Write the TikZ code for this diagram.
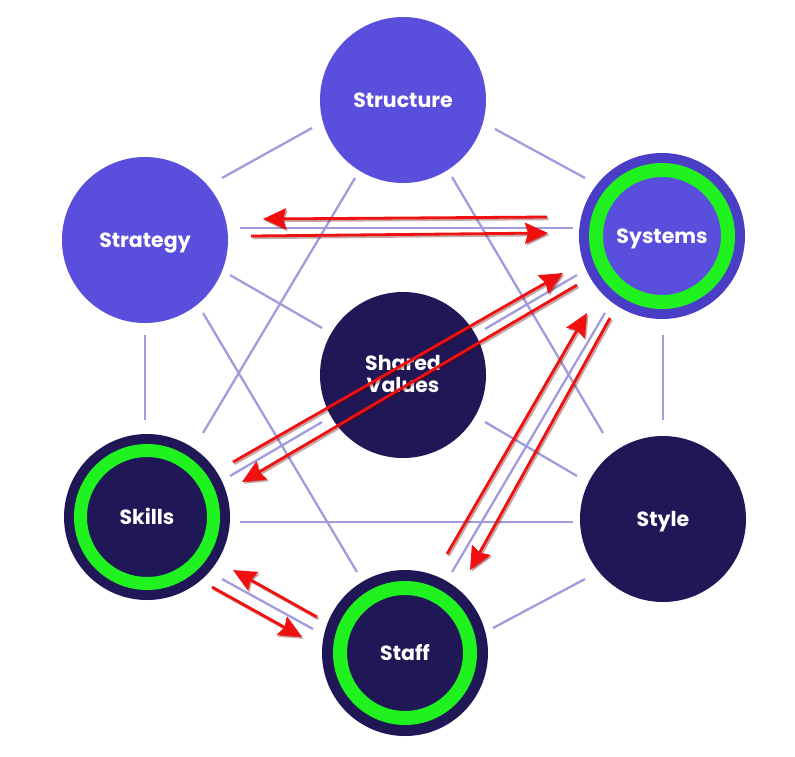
\documentclass[tikz,border=0pt]{standalone}
\usepackage{fontspec}
\setmainfont{Poppins}
\usetikzlibrary{calc,arrows.meta,backgrounds}
\definecolor{lpurple}{HTML}{5A4EDD}
\definecolor{rimpurple}{HTML}{4A3EC6}
\definecolor{navy}{HTML}{1F1756}
\definecolor{ringgreen}{HTML}{1FF21F}
\definecolor{linkblue}{HTML}{A19DDC}
\definecolor{glowc}{HTML}{8F88E8}
\definecolor{arrred}{HTML}{F01010}
\newcommand\myarrow[2]{%
  \draw[arrsh] #1 -- #2;
  \draw[arr] #1 -- #2;}
\begin{document}
\begin{tikzpicture}[x=1pt,y=-1pt,
  ball/.style={circle, inner sep=0pt, minimum size=166pt, text=white,
    font=\fontsize{20.5}{22}\selectfont\bfseries, align=center,
    text height=14.4pt, text depth=0pt},
  link/.style={draw=linkblue, line width=2.3pt},
  arr/.style={draw=arrred, line width=2.8pt,
    -{Stealth[length=23pt,width=21pt,inset=3pt]}},
  arrsh/.style={draw=black!60!red, opacity=0.35, line width=2.8pt,
    -{Stealth[length=23pt,width=21pt,inset=3pt]},
    transform canvas={shift={(1.5pt,-1.8pt)}}},
  ring/.style={draw=ringgreen, line width=14pt}]
\useasboundingbox (0,0) rectangle (795,756);
\fill[white] (0,0) rectangle (795,756);

% nodes
\node[ball, fill=lpurple] (st) at (403,100) {Structure};
\node[ball, fill=lpurple] (sg) at (145,240) {Strategy};
\node[ball, fill=rimpurple, path picture={
   \fill[lpurple] (path picture bounding box.center) circle (73pt);
   \draw[ring] (path picture bounding box.center) circle (66pt);}]
   (sy) at (662,236) {Systems};
\node[ball, fill=navy, text height=34.4pt] (sv) at (403,375) {Shared\\Values};
\node[ball, fill=navy, path picture={
   \draw[ring, line width=13pt] (path picture bounding box.center) circle (66.5pt);}]
   (sk) at (147,517) {Skills};
\node[ball, fill=navy] (stl) at (663,519) {Style};
\node[ball, fill=navy, path picture={
   \draw[ring] (path picture bounding box.center) circle (65pt);}]
   (sf) at (405,653) {Staff};

% glow
\begin{scope}[on background layer]
  \foreach \n in {st,sg,sy,sv,sk,stl,sf}{
    \foreach \k in {1,...,8}{
      \fill[glowc, opacity=0.045] (\n) circle ({83pt+2pt*\k});
    }
  }
\end{scope}

% links
\draw[link] ($(sg)+(77,-62)$) -- ($(st)+(-91,28)$);
\draw[link] ($(st)+(92,29)$) -- ($(sy)+(-77,-58)$);
\draw[link] ($(st)+(-48,78)$) -- ($(sk)+(56,-84)$);
\draw[link] ($(st)+(49,77)$) -- ($(stl)+(-60,-86)$);
\draw[link] ($(sg)+(95,-12)$) -- ($(sy)+(-89,-8)$);
\draw[link] ($(sg)+(0,95)$) -- ($(sk)+(-2,-97)$);
\draw[link] ($(sy)+(1,99)$) -- ($(stl)+(0,-99)$);
\draw[link] ($(sg)+(85,35)$) -- ($(sv)+(-81,-47)$);
\draw[link] ($(sg)+(58,73)$) -- ($(sf)+(-48,-81)$);
\draw[link] ($(sk)+(83,-41)$) -- ($(sv)+(-81,47)$);
\draw[link] ($(sv)+(82,-46)$) -- ($(sy)+(-85,39)$);
\draw[link] ($(sy)+(-57,77)$) -- ($(sf)+(47,-81)$);
\draw[link] ($(sv)+(82,47)$) -- ($(stl)+(-86,-43)$);
\draw[link] ($(sk)+(93,5)$) -- ($(stl)+(-90,3)$);
\draw[link] ($(sk)+(75,62)$) -- ($(sf)+(-92,-24)$);
\draw[link] ($(sf)+(88,-25)$) -- ($(stl)+(-78,60)$);

% red arrows
\myarrow{($(sy)+(-115,-19)$)}{($(sg)+(118,-21)$)}
\myarrow{($(sg)+(106,-4)$)}{($(sy)+(-114,-3)$)}
\myarrow{($(sk)+(86,-55)$)}{($(sy)+(-99,37)$)}
\myarrow{($(sy)+(-85,49)$)}{($(sk)+(95,-35)$)}
\myarrow{($(sf)+(42,-99)$)}{($(sy)+(-75,77)$)}
\myarrow{($(sy)+(-52,82)$)}{($(sf)+(65,-83)$)}
\myarrow{($(sf)+(-88,-36)$)}{($(sk)+(86,53)$)}
\myarrow{($(sk)+(65,70)$)}{($(sf)+(-103,-16)$)}
\end{tikzpicture}
\end{document}
